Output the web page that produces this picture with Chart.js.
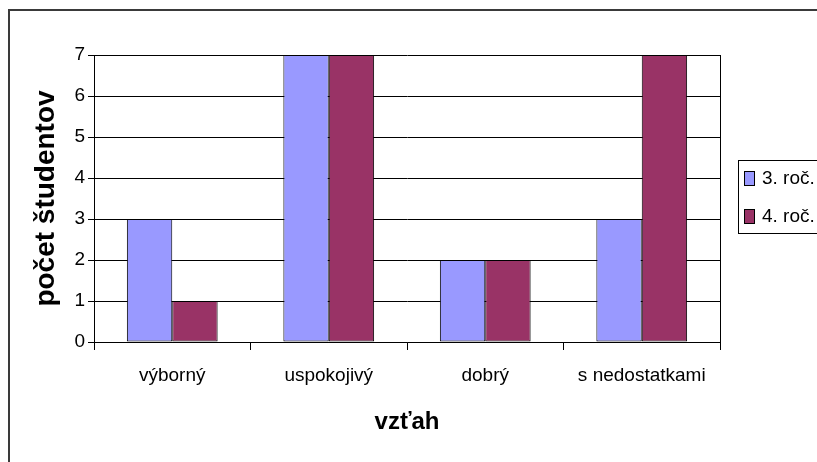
<!DOCTYPE html>
<html>
<head>
<meta charset="utf-8">
<script src="https://cdn.jsdelivr.net/npm/chart.js@4/dist/chart.umd.min.js"></script>
<style>
  html, body { margin: 0; padding: 0; background: #fff; overflow: hidden; }
  #frame { position: absolute; left: 8px; top: 9px; width: 900px; height: 600px; border: 2px solid #3a3a3a; }
  #chartB { position: absolute; left: 0; top: 0; }
</style>
</head>
<body>
<div id="frame"></div>
<canvas id="chartB" width="817" height="462"></canvas>
<script>
var categories = ['výborný', 'uspokojivý', 'dobrý', 's nedostatkami'];
var seriesNames = ['3. roč.', '4. roč.'];
var rocnik3 = [3, 7, 2, 3];
var rocnik4 = [1, 7, 2, 7];
var yMin = 0;
var yMax = 7;

var fontFam = '"Liberation Sans", Arial, sans-serif';

// plot border on the right + legend box drawn by hand
var extras = {
  id: 'extras',
  afterDraw: function (chart) {
    var c = chart.ctx, a = chart.chartArea;
    c.save();
    c.strokeStyle = '#000';
    c.lineWidth = 1;
    c.beginPath();
    c.moveTo(Math.round(a.right) + 0.5, a.top);
    c.lineTo(Math.round(a.right) + 0.5, a.bottom + 8);
    c.stroke();

    // legend
    c.strokeRect(738.5, 160.5, 100, 73);
    c.font = '19px ' + fontFam;
    c.textBaseline = 'middle';
    c.fillStyle = '#000';
    chart.data.datasets.forEach(function (ds, i) {
      var y = 178 + i * 38;
      c.fillStyle = ds.backgroundColor;
      c.fillRect(744, y - 7, 10, 14);
      c.strokeRect(744.5, y - 6.5, 10, 14);
      c.fillStyle = '#000';
      c.fillText(ds.label, 762, y + 1);
    });
    c.restore();
  }
};

var ctx = document.getElementById('chartB');
var chartB = new Chart(ctx, {
  type: 'bar',
  data: {
    labels: categories,
    datasets: [{
      label: seriesNames[0],
      data: rocnik3,
      backgroundColor: '#9999ff',
      borderColor: '#000',
      borderWidth: 1,
      borderSkipped: false
    }, {
      label: seriesNames[1],
      data: rocnik4,
      backgroundColor: '#993366',
      borderColor: '#000',
      borderWidth: 1,
      borderSkipped: false
    }]
  },
  options: {
    responsive: false,
    animation: false,
    layout: { padding: { left: 0, top: 55, right: 97, bottom: 0 } },
    datasets: { bar: { categoryPercentage: 0.58, barPercentage: 1.0 } },
    scales: {
      x: {
        grid: { drawOnChartArea: false, color: '#000', tickLength: 8, offset: true },
        border: { color: '#000' },
        ticks: { color: '#000', padding: 14, maxRotation: 0, font: { family: fontFam, size: 19 } },
        title: {
          display: true, text: 'vzťah', color: '#000',
          font: { family: fontFam, size: 24, weight: 'bold' },
          padding: { top: 0, bottom: 25 }
        },
        afterFit: function (s) { s.height = 120; }
      },
      y: {
        min: yMin,
        max: yMax,
        grid: { color: '#000', tickLength: 6 },
        border: { color: '#000' },
        ticks: { stepSize: 1, color: '#000', padding: 3, font: { family: fontFam, size: 19 } },
        title: {
          display: true, text: 'počet študentov', color: '#000',
          font: { family: fontFam, size: 28, weight: 'bold' },
          padding: { top: 29, bottom: 0 }
        },
        afterFit: function (s) { s.width = 94; }
      }
    },
    plugins: {
      legend: { display: false },
      tooltip: { enabled: false }
    }
  },
  plugins: [extras]
});
</script>
</body>
</html>
